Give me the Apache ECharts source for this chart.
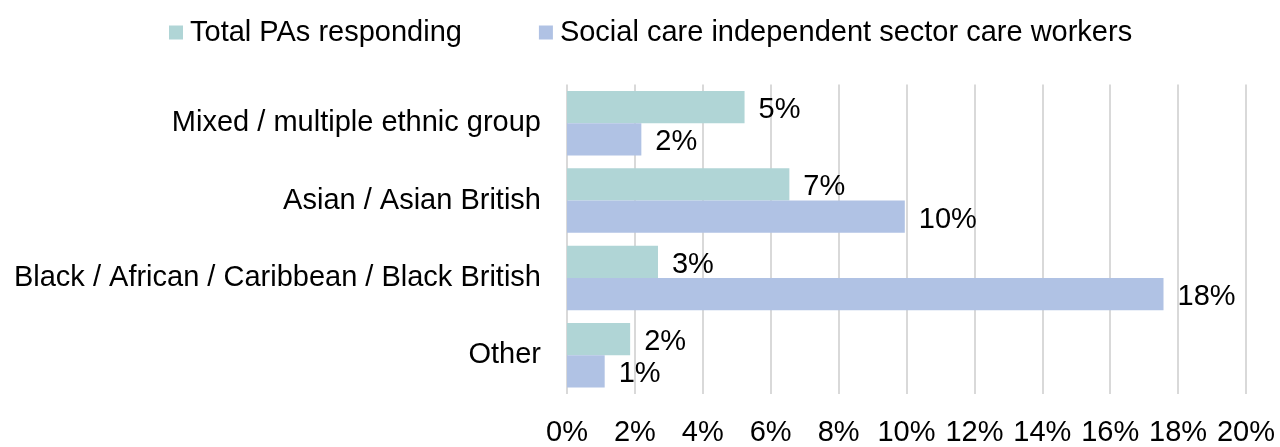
<!DOCTYPE html>
<html>
<head>
<meta charset="utf-8">
<script src="https://cdn.jsdelivr.net/npm/echarts@6/dist/echarts.min.js"></script>
<style>
  html, body { margin: 0; padding: 0; background: #fff; }
  #chart { width: 1280px; height: 447px; }
</style>
</head>
<body>
<div id="chart"></div>
<script>
// Ethnic groups shown on the category axis (top to bottom)
const categories = [
  'Mixed / multiple ethnic group',
  'Asian / Asian British',
  'Black / African / Caribbean / Black British',
  'Other'
];
// Share of each group, in percent
const paValues = [5.23, 6.55, 2.68, 1.86];
const careWorkerValues = [2.19, 9.95, 17.57, 1.11];
const seriesNames = ['Total PAs responding', 'Social care independent sector care workers'];

const FONT = '"Liberation Sans", Arial, Helvetica, sans-serif';
const FS = 29;

const chart = echarts.init(document.getElementById('chart'), null, { renderer: 'canvas' });

const barLabel = {
  show: true,
  position: 'right',
  distance: 14,
  offset: [0, 3],
  color: '#000',
  fontFamily: FONT,
  fontSize: FS,
  formatter: p => Math.round(p.value) + '%'
};

chart.setOption({
  animation: false,
  backgroundColor: '#fff',
  textStyle: { fontFamily: FONT },
  legend: {
    top: 13,
    left: 164,
    itemWidth: 14,
    itemHeight: 14,
    itemGap: 77,
    icon: 'rect',
    textStyle: { fontFamily: FONT, fontSize: FS, color: '#000', padding: [0, 0, 0, 2] },
    data: seriesNames
  },
  grid: {
    left: 567,
    right: 34,
    top: 84.5,
    bottom: 46.5,
    containLabel: false
  },
  xAxis: {
    type: 'value',
    min: 0,
    max: 20,
    interval: 2,
    axisLine: { show: false },
    axisTick: { show: false },
    splitLine: { show: true, lineStyle: { color: '#d9d9d9', width: 2 } },
    axisLabel: {
      color: '#000',
      fontFamily: FONT,
      fontSize: FS,
      margin: 24,
      formatter: '{value}%'
    }
  },
  yAxis: {
    type: 'category',
    inverse: true,
    data: categories,
    axisLine: { show: false },
    axisTick: { show: false },
    axisLabel: {
      color: '#000',
      fontFamily: FONT,
      fontSize: FS,
      margin: 26,
      lineHeight: 29,
      padding: [6, 0, 0, 0]
    }
  },
  series: [
    {
      name: seriesNames[0],
      type: 'bar',
      data: paValues,
      barGap: '0%',
      barCategoryGap: '16.5%',
      itemStyle: { color: '#b0d5d6' },
      label: barLabel
    },
    {
      name: seriesNames[1],
      type: 'bar',
      data: careWorkerValues,
      barGap: '0%',
      barCategoryGap: '16.5%',
      itemStyle: { color: '#b0c2e4' },
      label: barLabel
    }
  ]
});
</script>
</body>
</html>
